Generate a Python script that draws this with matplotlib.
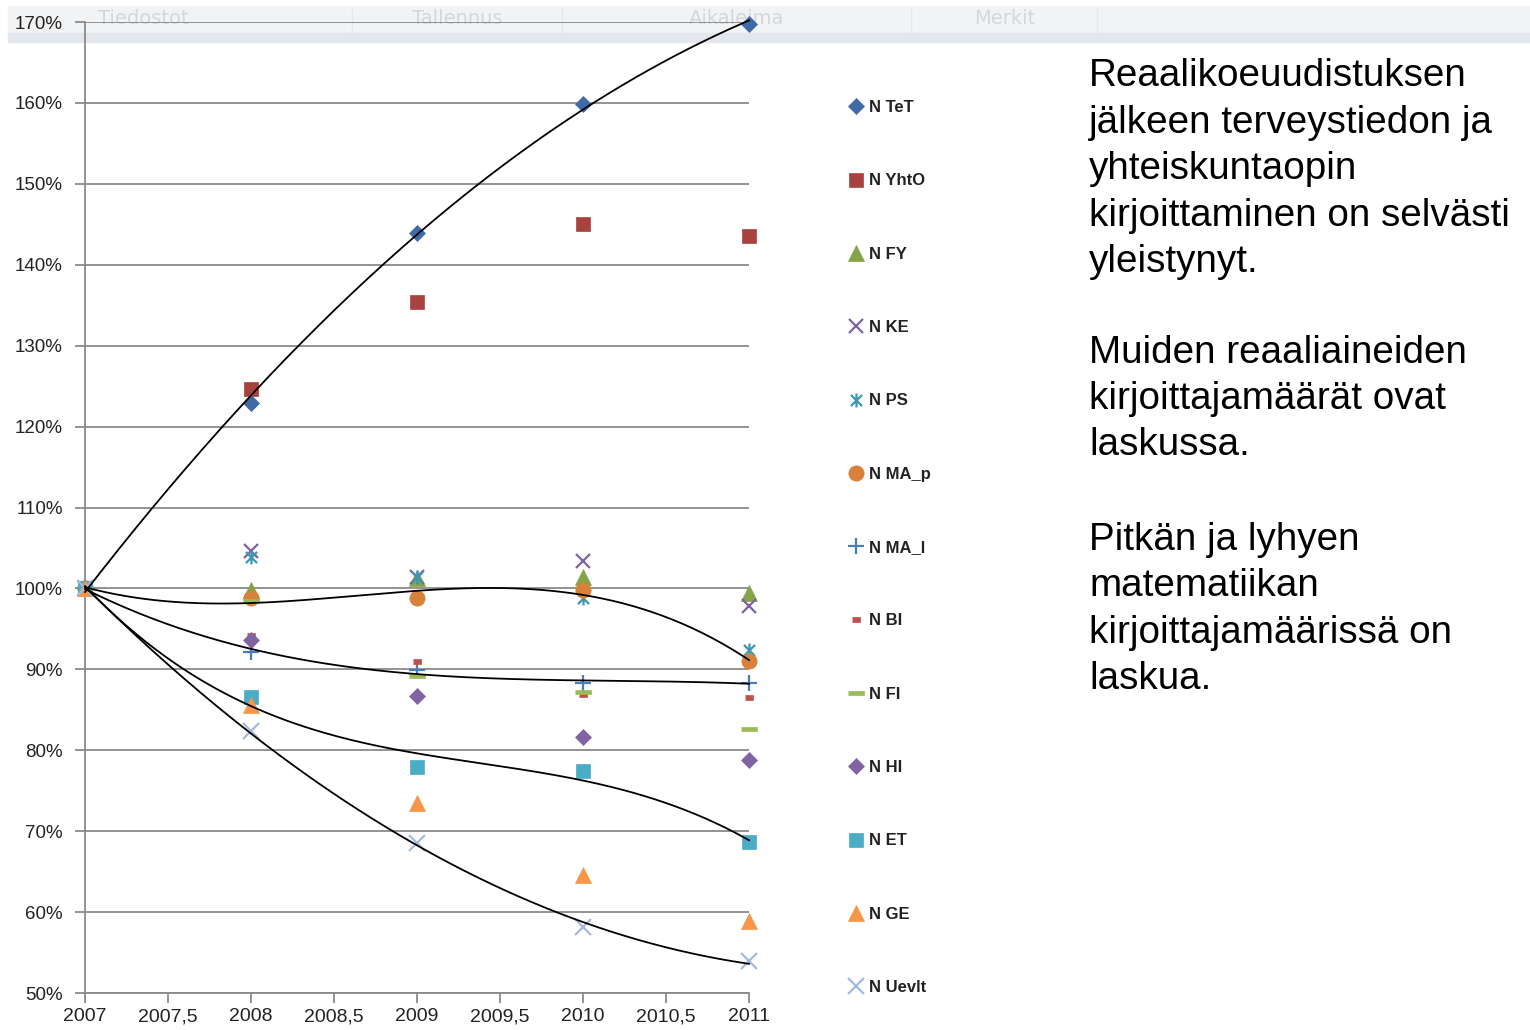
import numpy as np
import matplotlib
matplotlib.use('Agg')
import matplotlib.pyplot as plt
from matplotlib.path import Path
from matplotlib.lines import Line2D
from matplotlib.patches import Rectangle

# Years and relative number of writers (2007 = 100 %)
years = [2007, 2008, 2009, 2010, 2011]

n_tet = [100, 122.9, 143.9, 159.9, 169.8]
n_yhto = [100, 124.6, 135.4, 145.0, 143.5]
n_fy = [100, 99.8, 101.3, 101.4, 99.4]
n_ke = [100, 104.6, 101.4, 103.4, 97.8]
n_ps = [100, 103.9, 101.4, 98.8, 92.4]
n_ma_p = [100, 98.8, 98.8, 99.8, 91.0]
n_ma_l = [100, 92.2, 89.9, 88.3, 88.3]
n_bi = [100, 94.2, 91.0, 86.9, 86.6]
n_fi = [100, 98.4, 89.2, 87.2, 82.6]
n_hi = [100, 93.6, 86.7, 81.6, 78.8]
n_et = [100, 86.6, 77.9, 77.4, 68.6]
n_ge = [100, 85.6, 73.5, 64.6, 58.9]
n_uevlt = [100, 82.4, 68.5, 58.1, 53.9]

series_names = ['N TeT', 'N YhtO', 'N FY', 'N KE', 'N PS', 'N MA_p', 'N MA_l',
                'N BI', 'N FI', 'N HI', 'N ET', 'N GE', 'N Uevlt']

x_ticks = [2007, 2007.5, 2008, 2008.5, 2009, 2009.5, 2010, 2010.5, 2011]
y_ticks = [50, 60, 70, 80, 90, 100, 110, 120, 130, 140, 150, 160, 170]

text_lines = [
    ['Reaalikoeuudistuksen', 'jälkeen terveystiedon ja', 'yhteiskuntaopin',
     'kirjoittaminen on selvästi', 'yleistynyt.'],
    ['Muiden reaaliaineiden', 'kirjoittajamäärät ovat', 'laskussa.'],
    ['Pitkän ja lyhyen', 'matematiikan', 'kirjoittajamäärissä on', 'laskua.'],
]
toolbar_labels = ['Tiedostot', 'Tallennus', 'Aikaleima', 'Merkit']

# custom markers: Excel "star" (x + vertical bar) and short/long dashes
star = Path([(-1, -1), (1, 1), (-1, 1), (1, -1), (0, -1.25), (0, 1.25)],
            [Path.MOVETO, Path.LINETO, Path.MOVETO, Path.LINETO, Path.MOVETO, Path.LINETO])
short_dash = [(-1, -0.6), (1, -0.6), (1, 0.6), (-1, 0.6)]
long_dash = [(-1, -0.28), (1, -0.28), (1, 0.28), (-1, 0.28)]

styles = [
    (n_tet, 'D', '#3f6aa6', 8.5, 0),
    (n_yhto, 's', '#a8423f', 10, 0),
    (n_fy, '^', '#86a34a', 11, 0),
    (n_ke, 'x', '#7f63a0', 10, 1.6),
    (n_ps, star, '#3c98b0', 10, 1.6),
    (n_ma_p, 'o', '#d7813a', 11, 0),
    (n_ma_l, '+', '#4a7ebb', 12, 1.6),
    (n_bi, short_dash, '#c0504d', 6, 0),
    (n_fi, long_dash, '#9bbb59', 11, 0),
    (n_hi, 'D', '#8064a2', 8.5, 0),
    (n_et, 's', '#4bacc6', 10, 0),
    (n_ge, '^', '#f79646', 11, 0),
    (n_uevlt, 'x', '#a6b9dd', 11, 1.6),
]

fig = plt.figure(figsize=(15.3, 10.3), dpi=100)

# faded toolbar band from the screenshot, behind the chart top
fig.patches.append(Rectangle((8 / 1530, 1 - 40 / 1030), 1 - 8 / 1530, 34 / 1030,
                             transform=fig.transFigure, color='#f2f3f5', zorder=-2))
fig.patches.append(Rectangle((8 / 1530, 1 - 42 / 1030), 1 - 8 / 1530, 9 / 1030,
                             transform=fig.transFigure, color='#e3e6ea', zorder=-2))
for lab, xc in zip(toolbar_labels, [143, 457, 737, 1005]):
    fig.text(xc / 1530, 1 - 18 / 1030, lab, ha='center', va='center', fontsize=14,
             color='#d3d6db', family='Liberation Sans Narrow', zorder=-1)
for xs in [352, 562, 911, 1097]:
    fig.add_artist(Line2D([xs / 1530, xs / 1530], [1 - 33 / 1030, 1 - 8 / 1030],
                          transform=fig.transFigure, color='#e4e6e9', lw=1, zorder=-1))

ax = fig.add_axes([85 / 1530, 37 / 1030, 664 / 1530, 971 / 1030])
ax.patch.set_alpha(0)
ax.set_zorder(1)

handles = []
for (vals, mk, col, ms, mew), name in zip(styles, series_names):
    filled = mew == 0
    h, = ax.plot(years, vals, linestyle='none', marker=mk, markersize=ms,
                 markerfacecolor=col if filled else 'none', markeredgecolor=col,
                 markeredgewidth=mew if not filled else 0.5, clip_on=False,
                 zorder=3, label=name)
    handles.append(h)

# polynomial trendlines like in Excel
xs = np.linspace(2007, 2011, 200)
for vals, order in [(n_tet, 2), (n_ma_p, 3), (n_ma_l, 3), (n_et, 3), (n_uevlt, 2)]:
    coef = np.polyfit(np.array(years) - 2007, vals, order)
    ax.plot(xs, np.polyval(coef, xs - 2007), color='black', lw=1.3, zorder=4, clip_on=False)

ax.set_xlim(2007, 2011)
ax.set_ylim(50, 170)
ax.set_xticks(x_ticks)
ax.set_xticklabels([str(t).replace('.', ',') if t % 1 else str(int(t)) for t in x_ticks],
                   fontsize=14, family='Liberation Sans', color='#222222')
ax.set_yticks(y_ticks)
ax.set_yticklabels(['%d%%' % v for v in y_ticks], fontsize=13.5,
                   family='Liberation Sans', color='#222222')
ax.yaxis.grid(True, color='#8a8a8a', lw=1.3)
ax.set_axisbelow(True)
for s in ['top', 'right']:
    ax.spines[s].set_visible(False)
for s in ['left', 'bottom']:
    ax.spines[s].set_color('#8a8a8a')
    ax.spines[s].set_linewidth(1.3)
ax.tick_params(axis='both', color='#8a8a8a', length=7, width=1.3)
ax.tick_params(axis='y', pad=9)
ax.tick_params(axis='x', pad=4)

leg = ax.legend(handles=handles, loc='upper left', bbox_to_anchor=(834 / 1530, 1 - 85 / 1030),
                bbox_transform=fig.transFigure, frameon=False,
                labelspacing=3.5, handlelength=0.9, handletextpad=0.3,
                prop={'family': 'Liberation Sans', 'weight': 'bold', 'size': 12})
for t in leg.get_texts():
    t.set_color('#222222')

baselines = [[86, 133, 179, 226, 272], [363, 409, 455], [550, 596, 643, 689]]
for para, bls in zip(text_lines, baselines):
    for line, b in zip(para, bls):
        fig.text(1089 / 1530, 1 - b / 1030, line, ha='left', va='baseline',
                 fontsize=27.8, family='Liberation Sans', color='black')

fig.savefig('out.png', dpi=100)
